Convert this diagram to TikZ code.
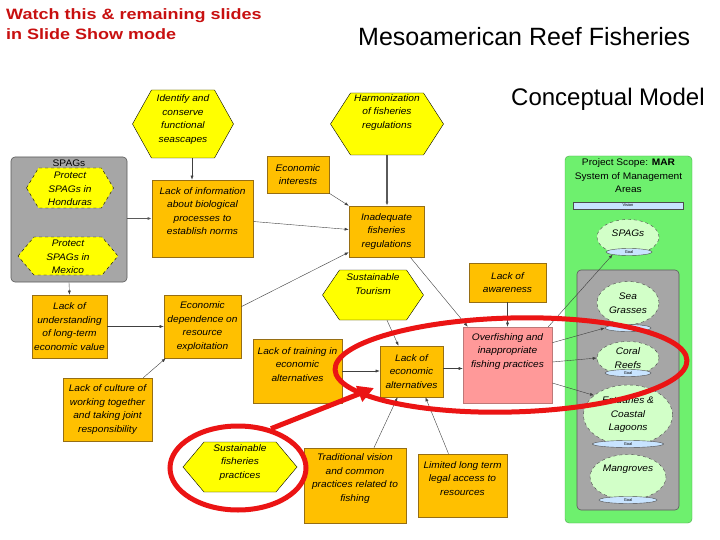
\documentclass[tikz,border=0pt]{standalone}
\usepackage{fontspec}
\setmainfont{Liberation Sans}
\newfontfamily\widesans[FakeStretch=1.07]{Liberation Sans}
\newfontfamily\warnsans[FakeStretch=1.2]{Liberation Sans}
\usetikzlibrary{shapes.geometric,arrows.meta,positioning}

\definecolor{boxfill}{RGB}{255,192,0}
\definecolor{boxline}{RGB}{150,110,20}
\definecolor{pinkfill}{RGB}{255,153,153}
\definecolor{pinkline}{RGB}{190,120,120}
\definecolor{hexfill}{RGB}{255,255,0}
\definecolor{greyfill}{RGB}{166,166,166}
\definecolor{greyline}{RGB}{90,90,90}
\definecolor{scopefill}{RGB}{110,240,110}
\definecolor{areafill}{RGB}{210,255,200}
\definecolor{goalfill}{RGB}{200,228,255}
\definecolor{ringred}{RGB}{235,20,20}
\definecolor{warnred}{RGB}{200,16,16}

\newcommand{\issuefont}{\fontsize{9.5}{13.5}\selectfont\widesans\itshape}
\newcommand{\scopefont}{\fontsize{9.5}{13.5}\selectfont\widesans}
\newcommand{\tinyfont}{\fontsize{4}{5}\selectfont}

% hexagon: [style]{cx}{cy}{w}{h}{indent}
\newcommand{\hexshape}[6][solid]{%
  \filldraw[hexborder,#1] ({#2-#4/2},#3) -- ({#2-#4/2+#6},{#3-#5/2})
    -- ({#2+#4/2-#6},{#3-#5/2}) -- ({#2+#4/2},#3)
    -- ({#2+#4/2-#6},{#3+#5/2}) -- ({#2-#4/2+#6},{#3+#5/2}) -- cycle;}

\tikzset{
  issue/.style={draw=boxline, fill=boxfill, line width=0.6pt, align=center,
    font=\issuefont, inner sep=1pt},
  inner/.style={align=center, font=\issuefont, inner sep=0pt},
  hextext/.style={align=center, font=\issuefont, inner sep=0pt},
  hexborder/.style={fill=hexfill, draw=black, line width=0.4pt},
  group/.style={draw=greyline, fill=greyfill, rounded corners=4pt, line width=0.6pt},
  area/.style={ellipse, draw=black!70, dashed, fill=areafill, align=center,
    font=\issuefont, inner sep=0pt},
  goal/.style={ellipse, draw=black!70, fill=goalfill, font=\tinyfont,
    inner sep=0pt, minimum height=7},
  link/.style={-{Latex[length=4pt,width=3pt]}, draw=black!75, line width=0.4pt},
  thicklink/.style={link, draw=greyline, line width=1.2pt},
  ring/.style={ellipse, draw=ringred, line width=5pt},
  redarrow/.style={draw=ringred, line width=5pt, -{Triangle[length=16pt,width=16pt]}}
}

\begin{document}
\begin{tikzpicture}[x=1pt,y=-1pt]
  \fill[white] (0,0) rectangle (720,540);
  \useasboundingbox (0,0) rectangle (720,540);

  % titles
  \node[anchor=north west, inner sep=0pt, align=left, text=warnred,
    font=\fontsize{15}{20}\selectfont\warnsans\bfseries] (watch) at (6,8)
    {Watch this \& remaining slides\\in Slide Show mode};
  \node[anchor=base west, inner sep=0pt, font=\fontsize{25}{30}\selectfont] (title) at (358,46)
    {Mesoamerican Reef Fisheries};
  \node[anchor=base west, inner sep=0pt, font=\fontsize{24}{28}\selectfont] (subtitle) at (511,106)
    {Conceptual Model};

  % SPAGs group
  \node[group, minimum width=116, minimum height=125] (spagsgrp) at (69,219.5) {};
  \node[below=1.5pt of spagsgrp.north, font=\scopefont, inner sep=1pt] (spagstitle) {SPAGs};
  \hexshape[dashed]{70}{188}{87}{40}{12}
  \node[hextext, minimum width=87, minimum height=40] (honduras) at (70,189)
    {Protect\\SPAGs in\\Honduras};
  \hexshape[dashed]{68}{256}{100}{38}{16}
  \node[hextext, minimum width=100, minimum height=38] (mexico) at (68,257)
    {Protect\\SPAGs in\\Mexico};

  % project scope
  \node[draw=scopefill!70!black, fill=scopefill, rounded corners=4pt,
    minimum width=127, minimum height=367] (scope) at (628.5,339.5) {};
  \node[below=2pt of scope.north, align=center, font=\scopefont, inner sep=1pt] (scopetitle)
    {Project Scope: \textbf{MAR}\\System of Management\\Areas};
  \node[draw=black!70, fill=goalfill, minimum width=110, minimum height=7,
    inner sep=0pt, font=\tinyfont] (vision) at (628,205.5) {Vision};
  \node[area, minimum width=62, minimum height=35,
    label={[inner, yshift=4]center:SPAGs}] (spagsell) at (628,237) {};
  \node[goal, minimum width=46] (spagsgoal) at (629,252) {Goal};
  \node[group, minimum width=102, minimum height=240] (habitats) at (628,390) {};
  \node[area, minimum width=62, minimum height=43] (seagr) at (628,303) {Sea\\Grasses};
  \node[goal, minimum width=46] (seagoal) at (628,328) {Goal};
  \node[area, minimum width=62, minimum height=33] (coral) at (628,358) {Coral\\Reefs};
  \node[goal, minimum width=46] (coralgoal) at (628,373) {Goal};
  \node[area, minimum width=89, minimum height=60] (estuar) at (628,415)
    {Estuaries \&\\Coastal\\Lagoons};
  \node[goal, minimum width=71] (estuargoal) at (628,444) {Goal};
  \node[area, minimum width=76, minimum height=45,
    label={[inner, yshift=8]center:Mangroves}] (mangr) at (628,477) {};
  \node[goal, minimum width=58] (mangrgoal) at (628,500) {Goal};

  % strategies
  \hexshape{183}{124}{101}{68}{19}
  \node[minimum width=101, minimum height=68, inner sep=0pt,
    label={[hextext, yshift=4.5]center:Identify and\\conserve\\functional\\seascapes}]
    (identify) at (183,124) {};
  \hexshape{387}{124}{113}{62}{20}
  \node[minimum width=113, minimum height=62, inner sep=0pt,
    label={[hextext, yshift=11.5]center:Harmonization\\of fisheries\\regulations}]
    (harmon) at (387,124) {};
  \hexshape{373}{295}{101}{50}{17}
  \node[minimum width=101, minimum height=50, inner sep=0pt,
    label={[hextext, yshift=11]center:Sustainable\\Tourism}]
    (tourism) at (373,295) {};
  \hexshape{240}{467}{114}{50}{21}
  \node[minimum width=114, minimum height=50, inner sep=0pt,
    label={[hextext, yshift=4.5]center:Sustainable\\fisheries\\practices}]
    (susfish) at (240,467) {};

  % factors
  \node[issue, minimum width=62, minimum height=37] (econint) at (298,174.5)
    {Economic\\interests};
  \node[issue, minimum width=101, minimum height=77,
    label={[inner, yshift=7.5]center:Lack of information\\about biological\\processes to\\establish norms}]
    (lackinfo) at (202.5,218.5) {};
  \node[issue, minimum width=75, minimum height=51] (inadequate) at (386.5,231.5)
    {Inadequate\\fisheries\\regulations};
  \node[issue, minimum width=77, minimum height=39] (awareness) at (507.5,282.5)
    {Lack of\\awareness};
  \node[issue, minimum width=75, minimum height=63] (understanding) at (69.5,326.5)
    {Lack of\\understanding\\of long-term\\economic value};
  \node[issue, minimum width=77, minimum height=63] (dependence) at (202.5,326.5)
    {Economic\\dependence on\\resource\\exploitation};
  \node[issue, minimum width=89, minimum height=63] (culture) at (107.5,409.5)
    {Lack of culture of\\working together\\and taking joint\\responsibility};
  \node[issue, minimum width=89, minimum height=64,
    label={[inner, yshift=6.5]center:Lack of training in\\economic\\alternatives}]
    (training) at (297.5,371) {};
  \node[issue, minimum width=63, minimum height=51] (econalt) at (411.5,371.5)
    {Lack of\\economic\\alternatives};
  \node[issue, draw=pinkline, fill=pinkfill, minimum width=89, minimum height=76,
    label={[inner, yshift=13.5]center:Overfishing and\\inappropriate\\fishing practices}]
    (overfish) at (507.5,365) {};
  \node[issue, minimum width=102, minimum height=75,
    label={[inner, yshift=7]center:Traditional vision\\and common\\practices related to\\fishing}]
    (traditional) at (355,485.5) {};
  \node[issue, minimum width=89, minimum height=63,
    label={[inner, yshift=7]center:Limited long term\\legal access to\\resources}]
    (limited) at (462.5,485.5) {};

  % connectors
  \draw[link] ([xshift=9]identify.south) -- ([xshift=9]identify.south |- lackinfo.north);
  \draw[thicklink] (spagsgrp.east |- lackinfo.west) -- (lackinfo.west);
  \draw[link] ([yshift=-3]lackinfo.east) -- ([yshift=2]inadequate.west);
  \draw[link] (econint.south east) -- (inadequate.north west);
  \draw[thicklink] (harmon.south) -- (harmon.south |- inadequate.north);
  \draw[link] ([yshift=-12]dependence.north east) -- ([yshift=5]inadequate.south west);
  \draw[link] ([xshift=-14]inadequate.south east) -- ([xshift=5]overfish.north west);
  \draw[link] (awareness.south) -- (overfish.north);
  \draw[link] ([xshift=14]tourism.south) -- ([xshift=-13]econalt.north);
  \draw[link] (training.east) -- (training.east -| econalt.west);
  \draw[link] ([yshift=3]econalt.east) -- ([yshift=3]econalt.east -| overfish.west);
  \draw[link] ([xshift=-4]overfish.north east) -- (spagsgoal.south west);
  \draw[link] ([yshift=-16]overfish.north east) -- (seagoal.west);
  \draw[link] ([yshift=3]overfish.east) -- (coral.west);
  \draw[link] ([yshift=-18]overfish.east) -- (estuar.150);
  \draw[link] (spagsgrp.south) -- (understanding.north);
  \draw[link] (understanding.east) -- (dependence.west);
  \draw[link] ([xshift=-9]culture.north east) -- ([xshift=2]dependence.south west);
  \draw[link] ([xshift=19]traditional.north) -- ([xshift=-14]econalt.south);
  \draw[link] ([xshift=-14]limited.north) -- ([xshift=14]econalt.south);

  % red highlights
  \node[ring, minimum width=352, minimum height=94, rotate=1.5] (bigring) at (511,365) {};
  \node[ring, minimum width=136, minimum height=84] (smallring) at (238,468) {};
  \coordinate (redtip) at (374,388);
  \draw[redarrow] (smallring.50) -- (redtip);
\end{tikzpicture}
\end{document}
